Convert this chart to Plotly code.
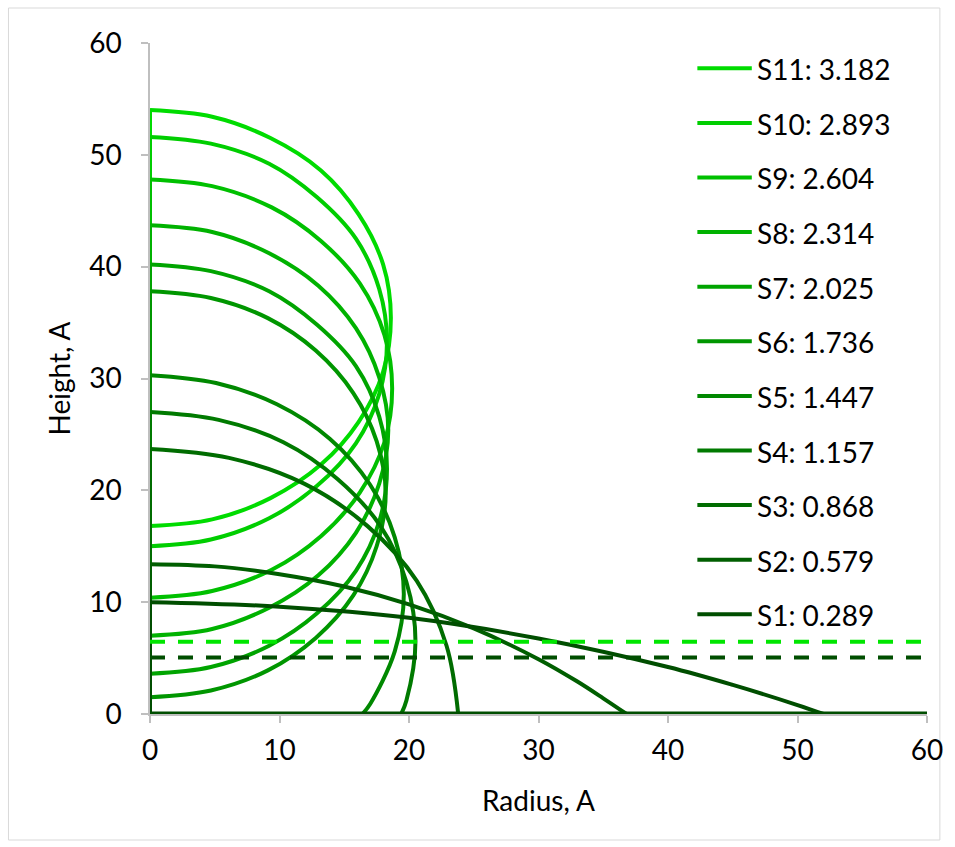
import plotly.graph_objects as go

# ---- data (Radius, Height in A) ----
labels = ["S11: 3.182", "S10: 2.893", "S9: 2.604", "S8: 2.314", "S7: 2.025",
          "S6: 1.736", "S5: 1.447", "S4: 1.157", "S3: 0.868", "S2: 0.579", "S1: 0.289"]

s11_x = [0, 4.8, 9.3, 13.2, 16.1, 18.0, 18.6, 18.0, 16.1, 13.2, 9.3, 4.8, 0]
s11_y = [54.0, 53.4, 51.5, 48.6, 44.7, 40.2, 35.4, 30.6, 26.1, 22.3, 19.3, 17.4, 16.8]

s10_x = [0, 4.7, 9.2, 12.9, 15.9, 17.7, 18.3, 17.7, 15.9, 12.9, 9.2, 4.7, 0]
s10_y = [51.6, 51.0, 49.2, 46.2, 42.5, 38.0, 33.3, 28.6, 24.2, 20.4, 17.5, 15.6, 15.0]

s9_x = [0, 4.8, 9.4, 13.2, 16.2, 18.1, 18.7, 18.1, 16.2, 13.2, 9.4, 4.8, 0]
s9_y = [47.8, 47.2, 45.3, 42.3, 38.5, 33.9, 29.1, 24.3, 19.8, 15.9, 12.9, 11.0, 10.4]

s8_x = [0, 4.8, 9.2, 13.0, 15.9, 17.7, 18.4, 17.7, 15.9, 13.0, 9.2, 4.8, 0]
s8_y = [43.7, 43.1, 41.2, 38.3, 34.5, 30.1, 25.4, 20.6, 16.2, 12.4, 9.5, 7.6, 7.0]

s7_x = [0, 4.7, 9.2, 12.9, 15.9, 17.7, 18.3, 17.7, 15.9, 12.9, 9.2, 4.7, 0]
s7_y = [40.2, 39.6, 37.8, 34.8, 31.1, 26.6, 21.9, 17.2, 12.8, 9.0, 6.1, 4.2, 3.6]

s6_x = [0, 4.7, 9.1, 12.8, 15.7, 17.5, 18.2, 17.5, 15.7, 12.8, 9.1, 4.7, 0]
s6_y = [37.8, 37.2, 35.4, 32.5, 28.7, 24.4, 19.7, 15.0, 10.6, 6.8, 3.9, 2.1, 1.5]

s5_x = [0, 5.1, 9.8, 13.9, 17.0, 18.9, 19.6, 18.9, 17.0, 16.4]
s5_y = [30.3, 29.6, 27.7, 24.6, 20.5, 15.8, 10.7, 5.6, 0.9, 0.0]

s4_x = [0, 5.3, 10.3, 14.5, 17.8, 19.8, 20.5, 19.8, 19.4]
s4_y = [27.0, 26.3, 24.3, 21.0, 16.8, 11.8, 6.5, 1.2, 0.0]

s3_x = [0, 6.1, 11.9, 16.8, 20.6, 22.9, 23.8]
s3_y = [23.7, 22.9, 20.6, 16.8, 11.9, 6.1, 0.0]

s2_x = [0, 5, 10, 15, 20, 25, 30, 33, 35, 36.8]
s2_y = [13.4, 13.2, 12.5, 11.4, 9.8, 7.65, 4.9, 2.9, 1.4, 0.0]

s1_x = [0, 10, 20, 30, 40, 45, 50, 52]
s1_y = [10.0, 9.6, 8.6, 6.75, 4.2, 2.6, 0.8, 0.0]

base_x = [0, 60]
base_y = [0, 0]

dash_bright_x = [0, 60]
dash_bright_y = [6.45, 6.45]
dash_dark_x = [0, 60]
dash_dark_y = [5.05, 5.05]

series_x = [s11_x, s10_x, s9_x, s8_x, s7_x, s6_x, s5_x, s4_x, s3_x, s2_x, s1_x]
series_y = [s11_y, s10_y, s9_y, s8_y, s7_y, s6_y, s5_y, s4_y, s3_y, s2_y, s1_y]

greens = ["rgb(0,220,0)", "rgb(0,206,0)", "rgb(0,192,0)", "rgb(0,178,0)", "rgb(0,164,0)",
          "rgb(0,150,0)", "rgb(0,136,0)", "rgb(0,122,0)", "rgb(0,108,0)", "rgb(0,94,0)",
          "rgb(0,78,0)"]

fig = go.Figure()

for xs, ys, col, nm in zip(series_x, series_y, greens, labels):
    # arc plus the vertical segment along the symmetry axis
    x = list(xs) + [None, 0, 0]
    y = list(ys) + [None, ys[-1] if xs[-1] == 0 else 0.0, ys[0]]
    fig.add_trace(go.Scatter(x=x, y=y, mode="lines", name=nm,
                             line=dict(color=col, width=4, shape="spline", smoothing=1.0),
                             showlegend=False, hoverinfo="skip"))

fig.add_trace(go.Scatter(x=base_x, y=base_y, mode="lines", showlegend=False,
                         line=dict(color="rgb(0,78,0)", width=5), hoverinfo="skip"))
fig.add_trace(go.Scatter(x=dash_bright_x, y=dash_bright_y, mode="lines", showlegend=False,
                         line=dict(color="rgb(0,230,0)", width=4, dash="15px,13px"),
                         hoverinfo="skip"))
fig.add_trace(go.Scatter(x=dash_dark_x, y=dash_dark_y, mode="lines", showlegend=False,
                         line=dict(color="rgb(0,78,0)", width=4, dash="15px,13px"),
                         hoverinfo="skip"))

# ---- manual legend (pixel geometry of the reference) ----
L, T, PW, PH = 150, 43, 785, 671
def px2paper_x(px):
    return (px - L) / PW
def py2paper_y(py):
    return (T + PH - py) / PH

FONT = "Lato"
shapes = []
annotations = []
row0, step = 68.3, 54.6
for i, (nm, col) in enumerate(zip(labels, greens)):
    py = row0 + i * step
    shapes.append(dict(type="line", xref="paper", yref="paper",
                       x0=px2paper_x(703), x1=px2paper_x(758),
                       y0=py2paper_y(py), y1=py2paper_y(py),
                       line=dict(color=col, width=4)))
    annotations.append(dict(xref="paper", yref="paper", x=px2paper_x(761), y=py2paper_y(py + 1),
                            text=nm, showarrow=False, xanchor="left", yanchor="middle",
                            font=dict(family=FONT, size=28, color="#000000")))

# chart-area border
shapes.append(dict(type="rect", xref="paper", yref="paper",
                   x0=px2paper_x(7), x1=px2paper_x(948),
                   y0=py2paper_y(840), y1=py2paper_y(8),
                   line=dict(color="#d9d9d9", width=1), layer="below"))

axis_common = dict(range=[0, 60], dtick=10, showgrid=False, zeroline=False,
                   showline=True, linecolor="#bfbfbf", linewidth=1.5,
                   ticks="outside", ticklen=7, tickcolor="#bfbfbf", tickwidth=1.5,
                   tickfont=dict(family=FONT, size=28, color="#000000"),
                   layer="below traces")

fig.update_layout(
    width=955, height=847,
    margin=dict(l=L, r=955 - L - PW, t=T, b=847 - T - PH),
    paper_bgcolor="white", plot_bgcolor="white",
    xaxis=dict(**axis_common, ticklabelstandoff=4,
               title=dict(text="Radius, A", standoff=26,
                          font=dict(family=FONT, size=28, color="#000000"))),
    yaxis=dict(**axis_common, ticklabelstandoff=14,
               title=dict(text="Height, A", standoff=10,
                          font=dict(family=FONT, size=28, color="#000000"))),
    shapes=shapes, annotations=annotations, showlegend=False,
)

fig.write_html("out.html")
